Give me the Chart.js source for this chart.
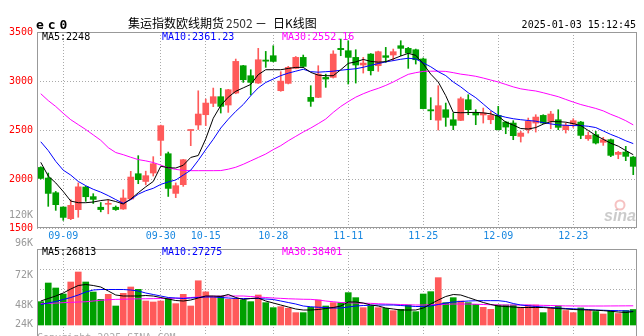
<!DOCTYPE html>
<html>
<head>
<meta charset="utf-8">
<script src="https://cdn.jsdelivr.net/npm/chart.js@4.4.1/dist/chart.umd.min.js"></script>
<style>
  body { margin: 0; background: #fff; width: 644px; height: 336px; overflow: hidden; position: relative; }
  #kline { position: absolute; left: 0; top: 0; }
  #vol { position: absolute; left: 0; top: 236px; }
</style>
</head>
<body>
<canvas id="kline" width="644" height="248"></canvas>
<canvas id="vol" width="644" height="102"></canvas>
<script>
// trading days shown on the daily K chart
const dates = ['09-04','09-05','09-06','09-09','09-10','09-11','09-12','09-13','09-18','09-19',
  '09-20','09-23','09-24','09-25','09-26','09-27','09-30','10-08','10-09','10-10',
  '10-11','10-14','10-15','10-16','10-17','10-18','10-21','10-22','10-23','10-24',
  '10-25','10-28','10-29','10-30','10-31','11-01','11-04','11-05','11-06','11-07',
  '11-08','11-11','11-12','11-13','11-14','11-15','11-18','11-19','11-20','11-21',
  '11-22','11-25','11-26','11-27','11-28','11-29','12-02','12-03','12-04','12-05',
  '12-06','12-09','12-10','12-11','12-12','12-13','12-16','12-17','12-18','12-19',
  '12-20','12-23','12-24','12-25','12-26','12-27','12-30','12-31','01-02','01-03'];
const markDates = ['09-09','09-30','10-15','10-28','11-11','11-25','12-09','12-23'];

const opens = [2118,2010,1860,1714,1595,1687,1918,1820,1712,1742,
  1712,1694,1796,2054,1975,2061,2394,2258,1853,1942,
  2495,2551,2656,2772,2840,2755,2877,3156,3054,2979,
  3214,3258,2901,2976,3129,3241,2833,2833,3037,3037,
  3333,3309,3241,3163,3275,3156,3258,3265,3360,3333,
  3319,3225,2707,2600,2707,2605,2598,2809,2673,2653,
  2605,2649,2581,2571,2435,2503,2571,2649,2588,2605,
  2503,2561,2581,2411,2452,2374,2401,2251,2275,2224];
const highs = [2125,2061,1873,1716,1790,1960,1925,1850,1760,1790,
  1725,1890,2078,2238,2080,2228,2550,2275,1960,2200,
  2500,2900,2816,2928,2925,2915,3224,3160,3115,3333,
  3302,3360,3095,3150,3250,3265,2952,3156,3070,3309,
  3428,3411,3319,3241,3280,3305,3343,3326,3411,3343,
  3326,3235,2830,2952,2775,2673,2836,2860,2707,2724,
  2690,2741,2588,2595,2486,2622,2656,2656,2690,2707,
  2571,2615,2588,2479,2486,2425,2408,2282,2333,2230];
const lows = [2000,1721,1680,1578,1585,1610,1772,1750,1665,1645,
  1680,1690,1790,1952,1940,2030,2240,1822,1810,1925,
  2340,2505,2544,2738,2673,2680,2870,2986,2857,2975,
  3139,3195,2895,2970,3125,3140,2741,2830,2935,3030,
  3258,2969,2979,3081,3061,3098,3190,3207,3258,3129,
  3173,2715,2605,2500,2537,2503,2595,2656,2554,2571,
  2564,2500,2462,2401,2377,2469,2479,2565,2513,2503,
  2469,2527,2411,2394,2357,2343,2228,2207,2187,2044];
const closes = [2006,1853,1738,1608,1731,1920,1819,1792,1688,1748,
  1688,1806,2020,1993,2034,2156,2544,1904,1932,2197,
  2500,2663,2775,2840,2741,2911,3200,3013,2986,3217,
  3202,3200,2999,3139,3241,3149,2792,3071,3020,3275,
  3320,3241,3163,3183,3105,3299,3241,3299,3333,3285,
  3217,2718,2695,2748,2629,2547,2819,2707,2653,2673,
  2649,2503,2530,2442,2469,2588,2632,2571,2663,2527,
  2547,2595,2445,2445,2367,2401,2241,2272,2231,2129];

const ma5 = [2170,2030,1960,1872,1775,1758,1758,1765,1780,1789,
  1770,1745,1795,1860,1920,1975,2130,2115,2112,2140,
  2220,2240,2410,2620,2750,2835,2895,2930,2965,3065,
  3115,3115,3115,3128,3139,3139,3088,3060,3054,3054,
  3115,3180,3195,3220,3200,3192,3198,3225,3255,3282,
  3262,3175,3070,2990,2850,2680,2676,2678,2680,2675,
  2665,2640,2580,2550,2515,2510,2525,2560,2585,2585,
  2580,2565,2545,2495,2445,2405,2365,2335,2290,2248];
const ma10 = [2380,2290,2180,2090,2040,1975,1932,1895,1866,1830,
  1790,1752,1790,1845,1880,1905,1945,1970,1990,2040,
  2090,2190,2300,2405,2520,2610,2690,2760,2850,2930,
  2985,3020,3055,3080,3100,3120,3095,3090,3095,3100,
  3110,3118,3125,3140,3160,3178,3195,3208,3222,3232,
  3225,3185,3145,3095,3055,2990,2940,2880,2830,2765,
  2700,2650,2630,2615,2605,2597,2590,2575,2562,2552,
  2548,2545,2545,2538,2525,2490,2455,2425,2390,2361.23];
const ma30 = [2870,2800,2740,2670,2605,2555,2505,2450,2395,2320,
  2270,2248,2222,2198,2185,2168,2142,2114,2098,2088,
  2085,2085,2085,2085,2086,2100,2120,2150,2185,2220,
  2255,2300,2340,2390,2435,2480,2520,2565,2612,2680,
  2740,2790,2835,2870,2900,2925,2955,2990,3030,3068,
  3085,3098,3100,3100,3098,3085,3070,3060,3048,3030,
  3010,2990,2965,2940,2920,2908,2898,2880,2860,2840,
  2812,2785,2760,2740,2720,2695,2660,2630,2595,2552.16];

const volumes = [46700,84000,74000,62000,86000,106000,86000,66000,51300,61300,
  38000,63300,76000,71300,48000,46000,48000,53300,42700,61300,
  38000,88500,66300,55700,58000,51300,53300,50000,46700,60000,
  44700,34700,36700,33300,24700,24700,35300,50000,38000,44700,
  44700,64700,54700,34700,38000,34700,33300,28700,31300,40000,
  26700,62000,66700,94700,44700,54700,48000,44700,41300,35300,
  31300,40000,40000,40000,35300,40000,40000,24700,33300,38000,
  29000,24700,34000,29000,27000,22000,29000,23000,29000,31000];
const vma5 = [48000,53000,58000,64000,72000,79000,81000,79000,76000,68000,
  60000,58000,58000,58000,59000,58000,55000,52000,49000,48000,
  50000,54000,58000,58000,57000,61000,55000,51000,53000,54000,
  48000,44000,40000,36000,32000,30000,30000,31000,33000,35000,
  38000,46000,46000,44000,40000,38000,34000,32000,30000,30000,
  30000,34000,42000,50000,57000,61000,60000,55000,50000,45000,
  41000,38000,37000,36000,35000,35000,35000,35000,34000,33000,
  32000,31000,30500,30000,29500,28700,27500,26000,25000,26813];
const vma10 = [41000,44000,47000,51000,55000,60000,66000,70000,71000,71000,
  71000,71000,70000,68000,64000,61000,58000,55000,54000,53000,
  54000,55000,56000,56000,55000,54000,53000,53000,53000,53000,
  52000,51000,48000,45000,42000,38000,36500,35500,35000,34000,
  34000,36000,38000,39000,39500,40000,40000,40000,39000,38000,
  37000,37000,38000,41000,44000,46000,47000,48000,48500,48700,
  48700,48700,47000,43000,40000,38500,37000,36000,35000,34000,
  33000,32500,31500,31000,30000,29500,29000,28700,28200,27275];
const vma30 = [42700,43200,43800,44700,45300,46000,46500,48000,49500,50500,
  51300,51500,52000,52300,52500,52700,53000,53300,53500,54000,
  55000,56000,57000,57500,58000,58000,58000,58000,57000,56000,
  55000,54000,53300,52500,52000,51500,51300,50000,48000,46500,
  45000,44500,44000,43500,43300,42500,42000,41500,41000,40500,
  40000,40000,40500,41000,41500,42000,42000,42000,41500,41000,
  40500,40200,40000,40000,40000,40000,39700,39300,39000,38500,
  38200,38100,38000,38000,38000,38000,38100,38200,38300,38401];

const priceTicks = [1500, 2000, 2500, 3000, 3500];
const volGrid = [72000, 112000];
const volLabels = ['120K', '96K', '72K', '48K', '24K'];

const MONO = '"DejaVu Sans Mono", "Liberation Mono", monospace';
const RED = '#ff5a5a', GREEN = '#00a000';
const GRID = '#aaaaaa', FRAME = '#999999';
const candleColor = opens.map((o, i) => closes[i] >= o ? RED : GREEN);
const markIdx = markDates.map(d => dates.indexOf(d));
const last = a => a[a.length - 1];

function maLine(label, data, color) {
  return { type: 'line', label, data, borderColor: color, borderWidth: 1,
    pointRadius: 0, tension: 0, fill: false, order: 0 };
}

// grey box around each panel
const frame = {
  id: 'frame',
  afterDraw(chart) {
    const { ctx, chartArea: a } = chart;
    ctx.save();
    ctx.strokeStyle = FRAME;
    ctx.lineWidth = 1;
    ctx.strokeRect(a.left + 0.5, a.top + 0.5, a.right - a.left - 1, a.bottom - a.top - 1);
    ctx.restore();
  }
};

function legend(ctx, y, items) {
  ctx.font = '10px ' + MONO;
  ctx.textBaseline = 'middle';
  ctx.textAlign = 'left';
  items.forEach(([txt, color, x]) => { ctx.fillStyle = color; ctx.fillText(txt, x, y); });
}

const klineText = {
  id: 'klineText',
  beforeDatasetsDraw(chart) {
    const ctx = chart.ctx;
    ctx.save();
    // sina watermark
    ctx.strokeStyle = 'rgba(235,120,120,0.45)';
    ctx.lineWidth = 2;
    ctx.beginPath();
    ctx.arc(620, 205, 4.5, 0, Math.PI * 2);
    ctx.stroke();
    ctx.fillStyle = 'rgba(140,140,140,0.45)';
    ctx.font = 'italic bold 16px "Liberation Sans", sans-serif';
    ctx.textBaseline = 'alphabetic';
    ctx.fillText('sina', 604, 221);
    ctx.restore();
  },
  afterDraw(chart) {
    const ctx = chart.ctx;
    ctx.save();
    ctx.fillStyle = '#000';
    ctx.font = 'bold 13px ' + MONO;
    ctx.textBaseline = 'alphabetic';
    ['e', 'c', '0'].forEach((ch, i) => ctx.fillText(ch, 36 + i * 11.7, 29));

    ctx.font = '12px "Noto Sans CJK SC", sans-serif';
    ctx.textBaseline = 'middle';
    ctx.fillText('集运指数欧线期货', 128, 23.5);
    ctx.fillStyle = '#333';
    ctx.fillText('2502', 226, 23.5);
    ctx.fillStyle = '#000';
    ctx.fillText('－', 255, 23.5);
    ctx.fillText('日K线图', 273, 23.5);

    ctx.font = '10px ' + MONO;
    ctx.textAlign = 'right';
    ctx.fillText('2025-01-03 15:12:45', 636, 25);
    ctx.fillStyle = '#999';
    ctx.fillText(volLabels[0], 33, 215);

    legend(ctx, 37.5, [
      ['MA5:' + last(ma5), '#000', 42],
      ['MA10:' + last(ma10), '#0000ff', 162],
      ['MA30:' + last(ma30), '#ff00ff', 282]
    ]);
    ctx.restore();
  }
};

const volText = {
  id: 'volText',
  afterDraw(chart) {
    const ctx = chart.ctx;
    ctx.save();
    ctx.font = '10px ' + MONO;
    ctx.fillStyle = '#999';
    ctx.textAlign = 'right';
    ctx.textBaseline = 'middle';
    [7, 39, 69, 88].forEach((y, i) => ctx.fillText(volLabels[i + 1], 33, y));
    legend(ctx, 16, [
      ['MA5:' + last(vma5), '#000', 42],
      ['MA10:' + last(vma10), '#0000ff', 162],
      ['MA30:' + last(vma30), '#ff00ff', 282]
    ]);
    ctx.fillStyle = '#aaa';
    ctx.textAlign = 'left';
    ctx.textBaseline = 'top';
    ctx.fillText('Copyright 2025 SINA.COM', 37, 97);
    ctx.restore();
  }
};

const xGrid = {
  offset: false,
  drawTicks: false,
  color: c => markIdx.includes(c.index) ? GRID : 'rgba(0,0,0,0)'
};

new Chart(document.getElementById('kline'), {
  type: 'bar',
  data: {
    labels: dates,
    datasets: [
      maLine('MA5', ma5, '#000000'),
      maLine('MA10', ma10, '#0000ff'),
      maLine('MA30', ma30, '#ff00ff'),
      { label: 'body', data: opens.map((o, i) => [o, closes[i]]), backgroundColor: candleColor,
        barThickness: 6, minBarLength: 1, grouped: false, order: 1 },
      { label: 'wick', data: lows.map((l, i) => [l, highs[i]]), backgroundColor: candleColor,
        barThickness: 1, grouped: false, order: 2 }
    ]
  },
  options: {
    responsive: false,
    animation: false,
    layout: { padding: { top: 32, right: 7, left: 0, bottom: 0 } },
    plugins: { legend: { display: false }, tooltip: { enabled: false } },
    scales: {
      x: {
        grid: xGrid,
        border: { display: false, dash: [1, 2] },
        ticks: {
          autoSkip: false, maxRotation: 0, minRotation: 0, padding: 2,
          color: '#1a88e0', font: { family: MONO, size: 10 },
          callback: (v, i) => markIdx.includes(i) ? dates[i] : ''
        },
        afterFit: s => { s.height = 20; }
      },
      y: {
        min: 1500, max: 3500,
        afterBuildTicks: s => { s.ticks = priceTicks.map(value => ({ value })); },
        grid: { drawTicks: false, color: GRID },
        border: { display: false, dash: [1, 2] },
        ticks: { color: '#ff0000', font: { family: MONO, size: 10 }, padding: 4,
          callback: v => String(v) },
        afterFit: s => { s.width = 37; }
      }
    }
  },
  plugins: [frame, klineText]
});

new Chart(document.getElementById('vol'), {
  type: 'bar',
  data: {
    labels: dates,
    datasets: [
      maLine('MA5', vma5, '#000000'),
      maLine('MA10', vma10, '#0000ff'),
      maLine('MA30', vma30, '#ff00ff'),
      { label: 'volume', data: volumes, backgroundColor: candleColor, barThickness: 6, order: 1 }
    ]
  },
  options: {
    responsive: false,
    animation: false,
    layout: { padding: { top: 13, right: 7, left: 0, bottom: 0 } },
    plugins: { legend: { display: false }, tooltip: { enabled: false } },
    scales: {
      x: {
        grid: xGrid,
        border: { display: false, dash: [1, 2] },
        ticks: { display: false },
        afterFit: s => { s.height = 0; }
      },
      y: {
        min: -26000, max: 152000,
        afterBuildTicks: s => { s.ticks = volGrid.map(value => ({ value })); },
        grid: { drawTicks: false, color: GRID },
        border: { display: false, dash: [1, 2] },
        ticks: { display: false },
        afterFit: s => { s.width = 37; }
      }
    }
  },
  plugins: [frame, volText]
});
</script>
</body>
</html>
